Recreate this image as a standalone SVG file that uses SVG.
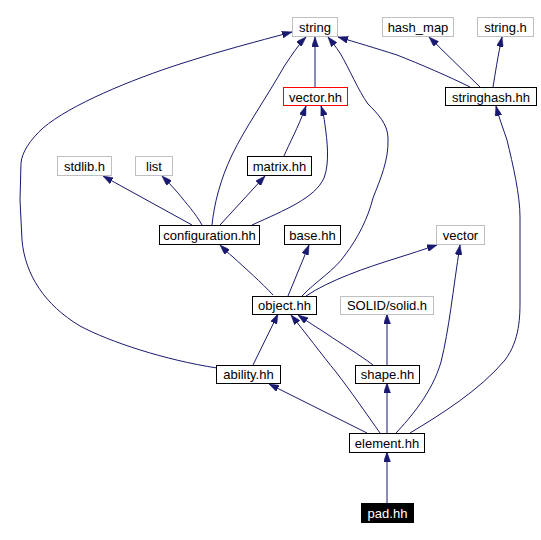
<svg xmlns="http://www.w3.org/2000/svg" width="541" height="540" viewBox="0 0 541 540">
<defs>
<marker id="ah" viewBox="0 0 10 7" markerWidth="10" markerHeight="7" refX="10" refY="3.5" orient="auto" markerUnits="userSpaceOnUse">
<path d="M0,0 L10,3.5 L0,7 z" fill="#191970" stroke="#191970" stroke-width="0.5"/>
</marker>
</defs>
<style>
.n rect{fill:#ffffff;stroke:#000000;stroke-width:1}
.g rect{stroke:#bfbfbf}
.r rect{stroke:#ff0000}
.n text{font-family:"Liberation Sans",Arial,sans-serif;font-size:13px;text-anchor:middle;fill:#000000}
.d rect{fill:#000000;stroke:#000000}
.d text{fill:#ffffff}
#edges path{fill:none;stroke:#191970;stroke-width:1;marker-end:url(#ah)}
</style>
<rect width="541" height="540" fill="#ffffff"/>
<g id="edges">
<path d="M315,87 L315,37"/>
<path d="M284,156 C289,144 298,128 306,106"/>
<path d="M252,225 C285,210 315,198 324,178 C330,162 327,140 325,125 C324,117 323,112 321,106"/>
<path d="M220,225 L265,176"/>
<path d="M212,225 C214,205 220,180 232,155 C245,128 265,100 285,65 C292,55 298,45 306,37"/>
<path d="M202,225 C196,214 186,203 178,193 C172,186 167,181 162,176"/>
<path d="M192,225 L103,176"/>
<path d="M273,295 C262,283 245,268 233,257 C228,253 224,249 220,245"/>
<path d="M288,296 L309,245"/>
<path d="M302,296 C315,282 335,270 345,255 C358,238 368,218 373,198 C380,180 389,160 388,138 C388,124 377,113 368,104 C358,90 350,70 340,53 C336,47 332,42 328,37"/>
<path d="M306,296 C330,280 365,268 397,258 C410,254 425,249 437,245"/>
<path d="M253,365 L278,314"/>
<path d="M217,368 C165,360 110,342 80,326 C45,305 25,275 22,240 L20,200 L21,163 C22,152 30,140 43,128 C70,105 130,80 183,63 C220,51 255,42 292,32"/>
<path d="M367,433 L269,384"/>
<path d="M380,433 C368,416 350,390 336,372 C322,355 305,332 291,315"/>
<path d="M387,433 L387,383"/>
<path d="M396,433 C410,418 432,393 441,362 C449,330 453,290 460,245"/>
<path d="M410,433 C440,415 480,390 505,360 C520,340 520,316 520,300 L520,217 C520,195 513,165 507,140 C503,128 499,118 496,106"/>
<path d="M373,365 C360,355 340,343 327,334 C318,328 308,322 298,315"/>
<path d="M387,365 L387,314"/>
<path d="M470,87 C450,77 420,64 397,55 C375,48 355,42 338,37"/>
<path d="M480,87 L429,37"/>
<path d="M493,87 C495,75 498,55 502,37"/>
<path d="M387,503 L387,452"/>
</g>
<g id="string" class="n g"><rect x="292.5" y="17.5" width="45" height="19"/><text x="315" y="32">string</text></g>
<g id="hash_map" class="n g"><rect x="382.5" y="17.5" width="71" height="19"/><text x="418" y="32">hash_map</text></g>
<g id="string_h" class="n g"><rect x="477.5" y="17.5" width="56" height="19"/><text x="505.5" y="32">string.h</text></g>
<g id="vector_hh" class="n r"><rect x="283.5" y="87.5" width="64" height="18"/><text x="315.5" y="101.5">vector.hh</text></g>
<g id="stringhash_hh" class="n"><rect x="445.5" y="87.5" width="91" height="18"/><text x="491" y="101.5">stringhash.hh</text></g>
<g id="stdlib_h" class="n g"><rect x="57.5" y="156.5" width="54" height="19"/><text x="84.5" y="171">stdlib.h</text></g>
<g id="list" class="n g"><rect x="135.5" y="156.5" width="37" height="19"/><text x="154" y="171">list</text></g>
<g id="matrix_hh" class="n"><rect x="247.5" y="156.5" width="64" height="19"/><text x="279.5" y="171">matrix.hh</text></g>
<g id="configuration_hh" class="n"><rect x="159.5" y="225.5" width="100" height="19"/><text x="209.5" y="240">configuration.hh</text></g>
<g id="base_hh" class="n"><rect x="284.5" y="225.5" width="56" height="19"/><text x="312.5" y="240">base.hh</text></g>
<g id="vector" class="n g"><rect x="436.5" y="225.5" width="48" height="19"/><text x="460.5" y="240">vector</text></g>
<g id="object_hh" class="n"><rect x="252.5" y="296.5" width="64" height="18"/><text x="284.5" y="310">object.hh</text></g>
<g id="solid_h" class="n g"><rect x="340.5" y="296.5" width="93" height="18"/><text x="387" y="310">SOLID/solid.h</text></g>
<g id="ability_hh" class="n"><rect x="216.5" y="365.5" width="64" height="18"/><text x="248.5" y="379">ability.hh</text></g>
<g id="shape_hh" class="n"><rect x="355.5" y="365.5" width="64" height="18"/><text x="387.5" y="379">shape.hh</text></g>
<g id="element_hh" class="n"><rect x="349.5" y="433.5" width="75" height="19"/><text x="387" y="448">element.hh</text></g>
<g id="pad_hh" class="n d"><rect x="361.5" y="503.5" width="52" height="19"/><text x="387.5" y="518">pad.hh</text></g>
</svg>
